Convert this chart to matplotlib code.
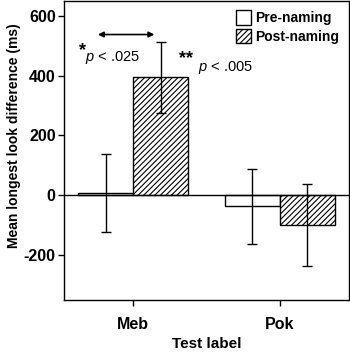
import numpy as np
import matplotlib
matplotlib.use("Agg")
import matplotlib.pyplot as plt

plt.rcParams["font.family"] = ["Liberation Sans", "DejaVu Sans"]
plt.rcParams["font.weight"] = "bold"
plt.rcParams["hatch.linewidth"] = 0.8
plt.rcParams["mathtext.fontset"] = "custom"
plt.rcParams["mathtext.it"] = "Liberation Sans:style=italic:weight=normal"
plt.rcParams["mathtext.rm"] = "Liberation Sans:weight=normal"

# data
labels = ["Meb", "Pok"]
pre_means = [8, -37]
pre_err = [130, 126]
post_means = [394, -101]
post_err = [118, 137]
yticks = [-200, 0, 200, 400, 600]

fig = plt.figure(figsize=(3.5, 3.55), dpi=100)
ax = fig.add_axes([0.183, 0.155, 0.814, 0.843])

x = np.arange(len(labels))
w = 0.374

ax.bar(x - w / 2, pre_means, w, color="white", edgecolor="black", linewidth=1,
       label="Pre-naming")
ax.bar(x + w / 2, post_means, w, color="white", edgecolor="black", linewidth=1,
       hatch="//////", label="Post-naming")
ax.errorbar(x - w / 2, pre_means, yerr=pre_err, fmt="none", ecolor="black",
            elinewidth=1, capsize=3.5, capthick=1)
ax.errorbar(x + w / 2, post_means, yerr=post_err, fmt="none", ecolor="black",
            elinewidth=1, capsize=3.5, capthick=1)

ax.axhline(0, color="black", linewidth=1)

ax.set_xlim(-0.47, 1.47)
ax.set_ylim(-350, 650)
ax.set_xticks(x)
ax.set_xticklabels(labels, fontsize=11.5, fontweight="bold")
ax.set_yticks(yticks)
ax.set_yticklabels([str(v) for v in yticks], fontsize=11.5, fontweight="bold")
ax.tick_params(length=4, width=1, pad=2)
ax.tick_params(axis="x", pad=8)
for s in ax.spines.values():
    s.set_linewidth(1)

ax.set_ylabel("Mean longest look difference (ms)", fontsize=10, fontweight="bold")
ax.yaxis.set_label_coords(-0.15, 0.55)
ax.set_xlabel("Test label", fontsize=11, fontweight="bold", labelpad=4)

# significance annotations
ax.annotate("", xy=(-0.24, 537), xytext=(0.145, 537),
            arrowprops=dict(arrowstyle="<|-|>", color="black", lw=1.2,
                            mutation_scale=8, shrinkA=0, shrinkB=0))
ax.text(-0.37, 482, "*", fontsize=13, ha="left", va="center")
ax.text(-0.327, 460, "$p$ < .025", fontsize=10.5, fontweight="normal",
        ha="left", va="center")
ax.text(0.31, 455, "**", fontsize=13, ha="left", va="center")
ax.text(0.44, 427, "$p$ < .005", fontsize=10.5, fontweight="normal",
        ha="left", va="center")

leg = ax.legend(loc="upper right", fontsize=10, frameon=False,
                handlelength=1.1, handleheight=1.2, handletextpad=0.3,
                labelspacing=0.25, borderaxespad=0.3)

fig.savefig("out.png", dpi=100)
